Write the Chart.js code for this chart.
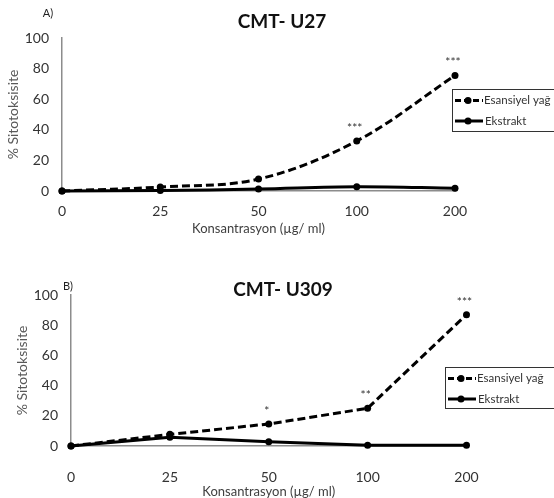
<!DOCTYPE html>
<html>
<head>
<meta charset="utf-8">
<script src="https://cdn.jsdelivr.net/npm/chart.js@4.4.1/dist/chart.umd.min.js"></script>
<style>
  body { margin: 0; background: #fff; }
  .panel { position: absolute; left: 0; width: 554px; height: 249px; }
</style>
</head>
<body>
<div class="panel" style="top:0"><canvas id="chartA" width="554" height="249"></canvas></div>
<div class="panel" style="top:249px"><canvas id="chartB" width="554" height="249"></canvas></div>
<script>
// Datos
const categories = ['0', '25', '50', '100', '200'];
const yTicks = [0, 20, 40, 60, 80, 100];
const seriesNames = ['Esansiyel yağ', 'Ekstrakt'];

// CMT- U27
const esansiyelA = [0, 2.6, 7.8, 32.7, 75.5];
const ekstraktA = [0, 0.3, 1.3, 2.8, 1.8];
const starsA = ['', '', '', '***', '***'];

// CMT- U309
const esansiyelB = [0, 7.7, 14.6, 25, 87];
const ekstraktB = [0, 5.8, 2.8, 0.5, 0.5];
const starsB = ['', '', '*', '**', '***'];

const FONT = 'Lato, "Open Sans", sans-serif';

// Dibuja título, etiqueta A)/B), leyenda y asteriscos
const decorPlugin = {
    id: 'decor',
    afterDatasetsDraw(chart, args, opts) {
        const ctx = chart.ctx;
        ctx.save();

        // asteriscos sobre la serie de aceite esencial
        const meta = chart.getDatasetMeta(0);
        ctx.fillStyle = '#333';
        ctx.font = '12px ' + FONT;
        ctx.textAlign = 'center';
        ctx.textBaseline = 'middle';
        opts.stars.forEach((s, i) => {
            if (!s) return;
            const pt = meta.data[i];
            ctx.fillText(s, pt.x - 2, pt.y - 13);
        });

        // título
        ctx.fillStyle = '#111';
        ctx.font = 'bold 19px ' + FONT;
        ctx.fillText(opts.title, opts.titleX, opts.titleY);

        // A) / B)
        ctx.font = '11px ' + FONT;
        ctx.fillStyle = '#222';
        ctx.fillText(opts.tag, opts.tagX, opts.tagY);

        // leyenda
        const lg = opts.legend;
        ctx.strokeStyle = '#333';
        ctx.lineWidth = 1;
        ctx.strokeRect(lg.x + 0.5, lg.y + 0.5, 200, lg.h);
        chart.data.datasets.forEach((ds, i) => {
            const y = lg.y + (i === 0 ? 11.5 : 32);
            ctx.strokeStyle = '#000';
            ctx.lineWidth = 3;
            ctx.setLineDash(ds.borderDash ? [6, 3] : []);
            ctx.beginPath();
            ctx.moveTo(lg.x + 3, y);
            ctx.lineTo(lg.x + 31, y);
            ctx.stroke();
            ctx.setLineDash([]);
            ctx.fillStyle = '#000';
            ctx.beginPath();
            ctx.arc(lg.x + 16, y, 3.5, 0, Math.PI * 2);
            ctx.fill();
            ctx.fillStyle = '#333';
            ctx.font = '11.5px ' + FONT;
            ctx.textAlign = 'left';
            ctx.fillText(ds.label, lg.x + (i === 0 ? 32 : 33), y);
        });
        ctx.restore();
    }
};

function makeChart(id, esansiyel, ekstrakt, stars, cfg) {
    const ctx = document.getElementById(id).getContext('2d');
    return new Chart(ctx, {
        type: 'line',
        data: {
            labels: categories,
            datasets: [{
                label: seriesNames[0],
                data: esansiyel,
                borderColor: '#000',
                backgroundColor: '#000',
                borderWidth: 3,
                borderDash: [8, 4],
                pointRadius: 3.5,
                pointBorderWidth: 0,
                pointBackgroundColor: '#000',
                tension: cfg.tension,
                order: 2,
                clip: false
            }, {
                label: seriesNames[1],
                data: ekstrakt,
                borderColor: '#000',
                backgroundColor: '#000',
                borderWidth: 3,
                pointRadius: 3.5,
                pointBorderWidth: 0,
                pointBackgroundColor: '#000',
                tension: cfg.tension,
                order: 1,
                clip: false
            }]
        },
        options: {
            responsive: false,
            animation: false,
            devicePixelRatio: 1,
            layout: { padding: { top: cfg.padTop, right: cfg.padRight, left: 0, bottom: 0 } },
            scales: {
                x: {
                    offset: false,
                    grid: { display: false, drawTicks: false },
                    border: { display: true, color: '#8c8c8c', width: 1.5 },
                    ticks: { color: '#333', font: { family: FONT, size: 14 }, padding: cfg.xTickPad },
                    title: {
                        display: true,
                        text: 'Konsantrasyon (µg/ ml)',
                        color: '#404040',
                        font: { family: FONT, size: 13, lineHeight: 1 },
                        padding: { top: 0, bottom: cfg.xTitlePad }
                    },
                    afterFit: s => { s.height = cfg.xHeight; }
                },
                y: {
                    min: 0,
                    max: 100,
                    grid: { display: false, drawTicks: false },
                    border: { display: true, color: '#8c8c8c', width: 1.5 },
                    afterBuildTicks: s => { s.ticks = yTicks.map(v => ({ value: v })); },
                    ticks: { color: '#333', font: { family: FONT, size: 14 }, padding: 13 },
                    title: {
                        display: true,
                        text: '% Sitotoksisite',
                        color: '#595959',
                        font: { family: FONT, size: 14 },
                        padding: { top: cfg.yTitlePad, bottom: 0 }
                    },
                    afterFit: s => { s.width = cfg.yWidth; }
                }
            },
            plugins: {
                legend: { display: false },
                tooltip: { enabled: false },
                decor: {
                    stars: stars,
                    title: cfg.title,
                    titleX: cfg.titleX,
                    titleY: cfg.titleY,
                    tag: cfg.tag,
                    tagX: cfg.tagX,
                    tagY: cfg.tagY,
                    legend: cfg.legend
                }
            }
        },
        plugins: [decorPlugin]
    });
}

makeChart('chartA', esansiyelA, ekstraktA, starsA, {
    title: 'CMT- U27', titleX: 282, titleY: 22,
    tag: 'A)', tagX: 48, tagY: 13,
    padTop: 38, padRight: 99, yWidth: 62, xHeight: 58,
    xTickPad: 12, xTitlePad: 14, yTitlePad: 5,
    tension: 0.35,
    legend: { x: 452, y: 89, h: 42 }
});

makeChart('chartB', esansiyelB, ekstraktB, starsB, {
    title: 'CMT- U309', titleX: 283, titleY: 41,
    tag: 'B)', tagX: 68, tagY: 37,
    padTop: 46, padRight: 87.5, yWidth: 71, xHeight: 52,
    xTickPad: 23, xTitlePad: 0, yTitlePad: 14,
    tension: 0,
    legend: { x: 445, y: 118, h: 41 }
});
</script>
</body>
</html>
